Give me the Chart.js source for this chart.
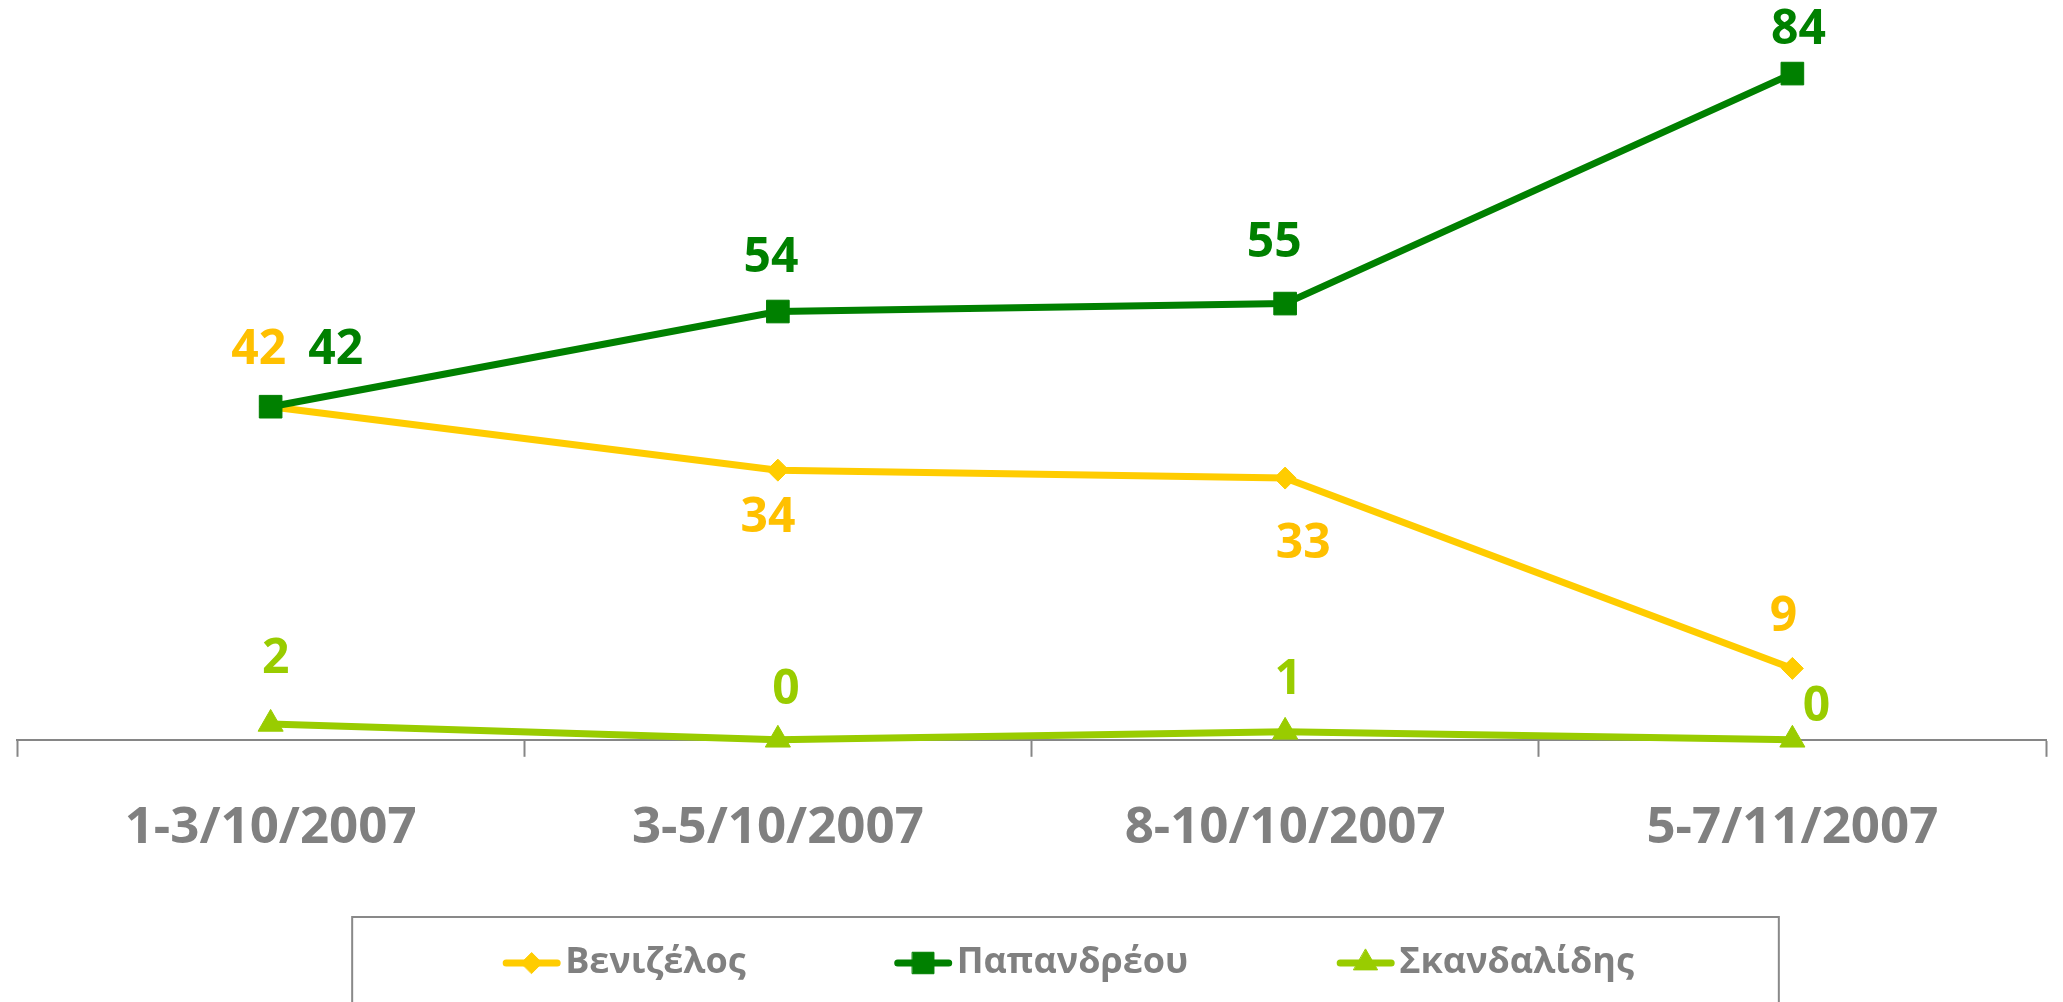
<!DOCTYPE html>
<html>
<head>
<meta charset="utf-8">
<script src="https://cdn.jsdelivr.net/npm/chart.js@4/dist/chart.umd.min.js"></script>
<style>
  html, body { margin: 0; padding: 0; background: #ffffff; }
  #wrap { width: 2063px; height: 1002px; }
</style>
</head>
<body>
<div id="wrap"><canvas id="c" width="2063" height="1002"></canvas></div>
<script>
const categories = ['1-3/10/2007', '3-5/10/2007', '8-10/10/2007', '5-7/11/2007'];
const seriesNames = ['Βενιζέλος', 'Παπανδρέου', 'Σκανδαλίδης'];
const venizelos = [42, 34, 33, 9];
const papandreou = [42, 54, 55, 84];
const skandalidis = [2, 0, 1, 0];

const lineColors = ['#FFCC00', '#008000', '#99CC00'];
const labelColors = ['#FFC000', '#008000', '#99CC00'];
const GRAY = '#808080';
const LEGEND_FS = 36;
const LABEL_FS = 48;

// label centre offsets (dx, dy) relative to each point, per series
const labelOffsets = [
  [[-12, -60], [-10, 45], [18, 63], [-9, -55]],
  [[65, -60], [-7, -57], [-11, -64], [6, -47]],
  [[5, -68], [8, -53], [3, -55], [24, -36]]
];

const dataLabelsPlugin = {
  id: 'dataLabels',
  afterDatasetsDraw(chart) {
    const ctx = chart.ctx;
    ctx.save();
    ctx.font = 'bold ' + LABEL_FS + 'px "Open Sans"';
    ctx.textAlign = 'center';
    ctx.textBaseline = 'alphabetic';
    const half = LABEL_FS * 0.714 / 2;
    chart.data.datasets.forEach((ds, di) => {
      const meta = chart.getDatasetMeta(di);
      meta.data.forEach((pt, i) => {
        const off = labelOffsets[di][i];
        ctx.fillStyle = labelColors[di];
        ctx.fillText(String(ds.data[i]), pt.x + off[0], pt.y + off[1] + half);
      });
    });
    ctx.restore();
  }
};

const legendDecorPlugin = {
  id: 'legendDecor',
  afterLayout(chart) {
    const lg = chart.legend;
    if (lg) { lg.left -= 32; lg.right -= 32; }
  },
  afterDraw(chart) {
    const lg = chart.legend;
    if (!lg || !lg.legendHitBoxes) return;
    const ctx = chart.ctx;
    const boxW = lg.options.labels.boxWidth;
    const fs = LEGEND_FS;
    const boxes = lg.legendHitBoxes;
    ctx.save();
    let firstStart = null, lastEnd = null, cy = null;
    boxes.forEach((hb, i) => {
      const item = lg.legendItems[i];
      const di = item.datasetIndex;
      const ds = chart.data.datasets[di];
      const textX = hb.left + boxW + fs / 2;
      const x1 = textX - 5, x0 = x1 - 57;
      const y = hb.top + hb.height / 2;
      cy = y;
      if (firstStart === null) firstStart = x0;
      lastEnd = hb.left + hb.width;
      ctx.strokeStyle = lineColors[di];
      ctx.lineWidth = 7;
      ctx.lineCap = 'round';
      ctx.beginPath();
      ctx.moveTo(x0 + 3, y);
      ctx.lineTo(x1 - 3, y);
      ctx.stroke();
      ctx.fillStyle = lineColors[di];
      ctx.strokeStyle = lineColors[di];
      ctx.lineWidth = 1;
      Chart.helpers.drawPoint(ctx, {
        pointStyle: ds.pointStyle,
        radius: ds.pointRadius * 0.95,
        rotation: 0,
        borderWidth: 1
      }, (x0 + x1) / 2, y);
    });
    ctx.strokeStyle = '#898989';
    ctx.lineWidth = 2;
    ctx.beginPath();
    ctx.moveTo(firstStart - 151, chart.height + 10);
    ctx.lineTo(firstStart - 151, cy - 46);
    ctx.lineTo(lastEnd + 145, cy - 46);
    ctx.lineTo(lastEnd + 145, chart.height + 10);
    ctx.stroke();
    ctx.restore();
  }
};

function makeDataset(label, data, color, style, radius, order) {
  return {
    label: label,
    data: data,
    borderColor: color,
    backgroundColor: color,
    borderWidth: 7,
    pointStyle: style,
    pointRadius: radius,
    pointHoverRadius: radius,
    pointBackgroundColor: color,
    pointBorderColor: color,
    pointBorderWidth: 1,
    tension: 0,
    clip: false,
    order: order
  };
}

new Chart(document.getElementById('c'), {
  type: 'line',
  data: {
    labels: categories,
    datasets: [
      makeDataset(seriesNames[0], venizelos, lineColors[0], 'rectRot', 11, 1),
      makeDataset(seriesNames[1], papandreou, lineColors[1], 'rect', 16, 0),
      makeDataset(seriesNames[2], skandalidis, lineColors[2], 'triangle', 14.5, 2)
    ]
  },
  options: {
    responsive: false,
    animation: false,
    devicePixelRatio: 1,
    layout: { padding: { top: 26, left: 13, right: 14, bottom: 11 } },
    scales: {
      x: {
        offset: true,
        grid: {
          offset: true,
          drawOnChartArea: false,
          drawTicks: true,
          tickLength: 17,
          tickColor: '#868686',
          tickWidth: 2
        },
        border: { display: true, color: '#868686', width: 2 },
        ticks: {
          color: GRAY,
          font: { family: '"Open Sans"', size: 51, weight: 'bold' },
          padding: 41,
          maxRotation: 0,
          autoSkip: false
        },
        afterFit(scale) { scale.height += 35; }
      },
      y: {
        display: false,
        min: 0,
        max: 90
      }
    },
    plugins: {
      tooltip: { enabled: false },
      legend: {
        display: true,
        position: 'bottom',
        labels: {
          color: GRAY,
          font: { family: '"Open Sans"', size: LEGEND_FS, weight: 'bold' },
          boxWidth: 183,
          boxHeight: 6,
          padding: 10,
          sort: (a, b) => a.datasetIndex - b.datasetIndex,
          generateLabels: (chart) =>
            Chart.defaults.plugins.legend.labels.generateLabels(chart).map(l => Object.assign(l, {
              fillStyle: 'rgba(0,0,0,0)',
              strokeStyle: 'rgba(0,0,0,0)',
              lineWidth: 0
            }))
        }
      }
    }
  },
  plugins: [dataLabelsPlugin, legendDecorPlugin]
});
</script>
</body>
</html>
